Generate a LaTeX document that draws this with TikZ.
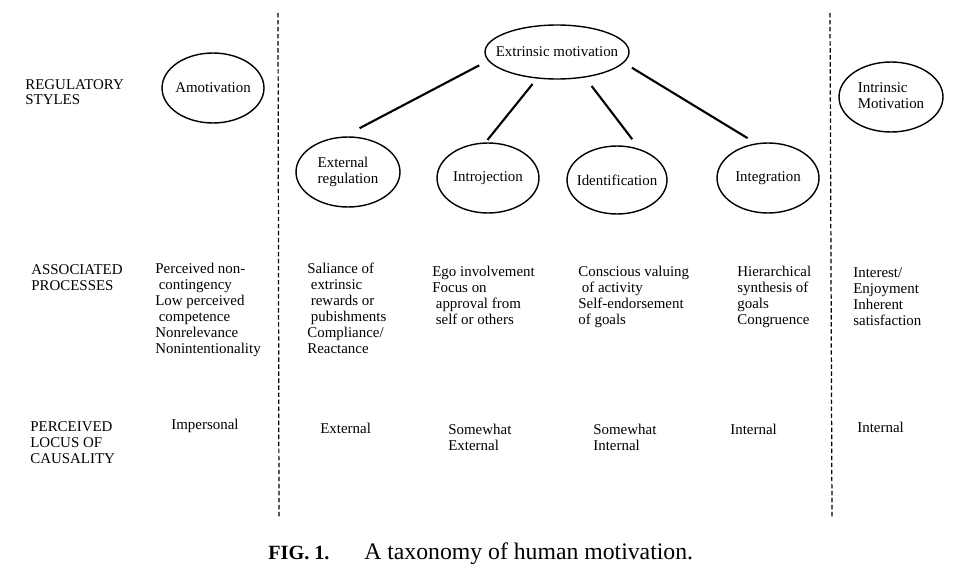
\documentclass[tikz,border=0pt]{standalone}
\usepackage{fontspec}
\setmainfont{Liberation Serif}
\usetikzlibrary{shapes.geometric}
\newcommand{\ctr}[1]{\makebox[0pt]{#1}}
\newcommand{\twoln}[2]{\makebox[0pt]{\begin{tabular}{@{}l@{}}#1\\#2\end{tabular}}}
\newcommand{\ind}{\hspace*{2pt}}
\begin{document}
\begin{tikzpicture}[x=0.02cm, y=-0.02cm,
            oval/.style={ellipse, draw, line width=0.8pt, inner sep=0pt, outer sep=0pt, font=\fontsize{8.5}{9}\selectfont},
            txt/.style={anchor=base west, align=left, inner sep=0pt, font=\fontsize{8.5}{9}\selectfont},
            link/.style={line width=1.2pt},
            divider/.style={line width=0.7pt, dash pattern=on 2.5pt off 1.5pt}
        ]
            \useasboundingbox (0,0) rectangle (960,588);
            \node[oval, minimum width=2.04cm, minimum height=1.4cm] (amot) at (213,88) {\ctr{Amotivation}};
            \node[oval, minimum width=2.88cm, minimum height=1.08cm] (extr) at (557,52) {\ctr{Extrinsic motivation}};
            \node[oval, minimum width=2.08cm, minimum height=1.4cm] (ereg) at (348,172) {\twoln{External}{regulation}};
            \node[oval, minimum width=2.04cm, minimum height=1.4cm] (intro) at (488,178) {\ctr{Introjection}};
            \node[oval, minimum width=2.0cm, minimum height=1.36cm] (ident) at (617,180) {\ctr{Identification}};
            \node[oval, minimum width=2.04cm, minimum height=1.4cm] (integ) at (768,178) {\ctr{Integration}};
            \node[oval, minimum width=2.08cm, minimum height=1.4cm] (intr) at (891,97) {\twoln{Intrinsic}{Motivation}};
            \draw[link, shorten <=6pt, shorten >=11pt] (extr.187.5) -- (ereg.99.7);
            \draw[link, shorten <=4.4pt, shorten >=2.3pt] (extr.233.8) -- (intro.95.7);
            \draw[link, shorten <=6.5pt, shorten >=7.7pt] (extr.318) -- (ident.52.5);
            \draw[link, shorten <=5.7pt, shorten >=6.2pt] (extr.351.5) -- (integ.108.7);
            \coordinate (d1top) at (278,13);
            \coordinate (d1bot) at (279,517);
            \coordinate (d2top) at (830,13);
            \coordinate (d2bot) at (832,517);
            \draw[divider] (d1top) -- (d1bot);
            \draw[divider] (d2top) -- (d2bot);
            \node[txt] (rs) at (25,105) {REGULATORY\\STYLES};
            \node[txt] (ap) at (31,290) {ASSOCIATED\\PROCESSES};
            \node[txt] (plc) at (30,463) {PERCEIVED\\LOCUS OF\\CAUSALITY};
            \node[txt] (p1) at (155,353) {Perceived non-\\\ind contingency\\Low perceived\\\ind competence\\Nonrelevance\\Nonintentionality};
            \node[txt] (p2) at (307,353) {Saliance of\\\ind extrinsic\\\ind rewards or\\\ind pubishments\\Compliance/\\Reactance};
            \node[txt] (p3) at (432,324) {Ego involvement\\Focus on\\\ind approval from\\\ind self or others};
            \node[txt] (p4) at (578,324) {Conscious valuing\\\ind of activity\\Self-endorsement\\of goals};
            \node[txt] (p5) at (737,324) {Hierarchical\\synthesis of\\goals\\Congruence};
            \node[txt] (p6) at (853,325) {Interest/\\Enjoyment\\Inherent\\satisfaction};
            \node[txt] (c1) at (171,429) {Impersonal};
            \node[txt] (c2) at (320,433) {External};
            \node[txt] (c3) at (448,450) {Somewhat\\External};
            \node[txt] (c4) at (593,450) {Somewhat\\Internal};
            \node[txt] (c5) at (730,434) {Internal};
            \node[txt] (c6) at (857,432) {Internal};
            \node[anchor=base west, inner sep=0pt, font=\fontsize{13.5}{15}\selectfont] (cap) at (268,559) {{\fontsize{11.5}{14}\selectfont\bfseries FIG. 1.}\hspace{19.8pt}A taxonomy of human motivation.};
        \end{tikzpicture}
\end{document}
